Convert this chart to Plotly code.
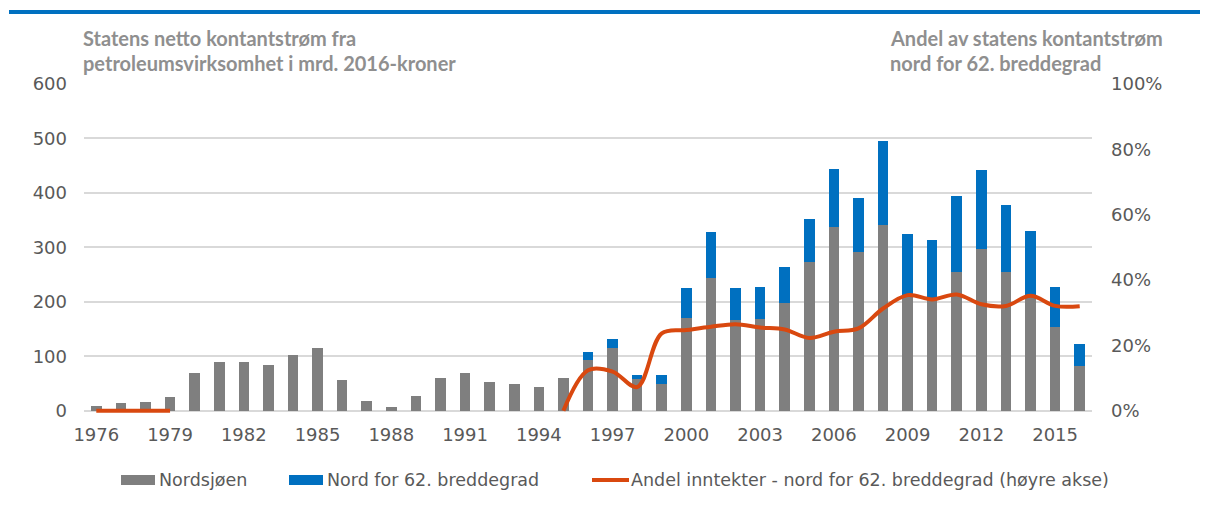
import plotly.graph_objects as go

years = list(range(1976, 2017))
nordsjoen = [9, 14, 17, 26, 69, 89, 89, 85, 102, 115, 56, 18, 7, 28, 61,
             69, 53, 50, 44, 61, 94, 116, 59, 50, 170, 244, 167, 168, 198, 273,
             337, 292, 342, 209, 205, 254, 297, 254, 213, 154, 83]
nord62 = [0, 0, 0, 0, 0, 0, 0, 0, 0, 0, 0, 0, 0, 0, 0,
          0, 0, 0, 0, 0, 14, 16, 6, 15, 55, 85, 58, 59, 66, 79,
          107, 99, 153, 115, 108, 140, 145, 123, 117, 73, 40]
andel = [0, 0, 0, 0, None, None, None, None, None, None, None, None, None, None, None,
         None, None, None, None, 0, 12.4, 12.0, 7.3, 23.7, 24.7, 25.7, 26.5, 25.5, 24.9, 22.3,
         24.2, 25.2, 31.3, 35.4, 34.1, 35.6, 32.6, 32.1, 35.2, 32.1, 32.0]
x_ticks = list(range(1976, 2017, 3))

GRAY = "#7F7F7F"
BLUE = "#0070C0"
ORANGE = "#D9480F"
TXT = "#595959"
TITLE = "#8F8F8F"
TICKFONT = "DejaVu Sans"
TITLEFONT = "Lato"

OFF = 8  # default page body margin
W, H = 1208 - OFF, 522 - OFF
# plot area in page pixels: x 84..1092, y 84..413
L, R, T, B = 84 - OFF, 1208 - 1092, 84 - OFF, 522 - 413
pw, ph = W - L - R, H - T - B


def px(x):
    return (x - OFF - L) / pw


def py(y):
    return (H - B - (y - OFF)) / ph


fig = go.Figure()
fig.add_trace(go.Bar(x=years, y=nordsjoen, name="Nordsjøen", marker_color=GRAY,
                     marker_line_width=0, showlegend=False))
fig.add_trace(go.Bar(x=years, y=nord62, name="Nord for 62. breddegrad", marker_color=BLUE,
                     marker_line_width=0, showlegend=False))
fig.add_trace(go.Scatter(x=years, y=[None if v is None else v / 100 for v in andel],
                         name="Andel inntekter - nord for 62. breddegrad (høyre akse)",
                         mode="lines", line=dict(color=ORANGE, width=4, shape="spline", smoothing=1.0),
                         yaxis="y2", showlegend=False, connectgaps=False))

lo = -4
tickfont = dict(family=TICKFONT, size=18, color=TXT)
fig.update_layout(
    width=W, height=H,
    margin=dict(l=L, r=R, t=T, b=B),
    paper_bgcolor="white", plot_bgcolor="white",
    barmode="stack", bargap=0.57,
    font=dict(family=TICKFONT, color=TXT, size=18),
    xaxis=dict(range=[1975.5, 2016.5], tickmode="array", tickvals=x_ticks,
               ticktext=[str(v) for v in x_ticks], showgrid=False, zeroline=False,
               showline=False, ticks="", tickfont=tickfont, ticklabelstandoff=9),
    yaxis=dict(range=[lo, 600], tickmode="linear", tick0=0, dtick=100,
               gridcolor="#D9D9D9", gridwidth=1.5, zeroline=True, zerolinecolor="#D9D9D9",
               zerolinewidth=1.5, ticks="", ticklabelstandoff=16, tickfont=tickfont),
    yaxis2=dict(range=[lo / 600, 1], overlaying="y", side="right", tickmode="linear",
                tick0=0, dtick=0.2, tickformat=".0%", showgrid=False, zeroline=False,
                ticks="", ticklabelstandoff=18, tickfont=tickfont),
)

# top blue rule
fig.add_shape(type="line", xref="paper", yref="paper", x0=px(9), x1=px(1220),
              y0=py(12), y1=py(12), line=dict(color=BLUE, width=4))

# axis titles
title_font = dict(family=TITLEFONT, size=20, color=TITLE)
for txt, xx, yy in [
    ("<b>Statens netto kontantstrøm fra</b>", 81, 38),
    ("<b>petroleumsvirksomhet i mrd. 2016-kroner</b>", 81, 63),
    ("<b>Andel av statens kontantstrøm</b>", 888, 38),
    ("<b>nord for 62. breddegrad</b>", 888, 63),
]:
    fig.add_annotation(text=txt, xref="paper", yref="paper", x=px(xx), y=py(yy),
                       xanchor="left", yanchor="middle", showarrow=False, font=title_font)

# legend (drawn manually)
leg_y = 480
leg_font = dict(family=TICKFONT, size=17.5, color=TXT)
fig.add_shape(type="rect", xref="paper", yref="paper", x0=px(121), x1=px(155),
              y0=py(475), y1=py(485), fillcolor=GRAY, line_width=0)
fig.add_shape(type="rect", xref="paper", yref="paper", x0=px(289), x1=px(323),
              y0=py(475), y1=py(485), fillcolor=BLUE, line_width=0)
fig.add_shape(type="line", xref="paper", yref="paper", x0=px(592), x1=px(629),
              y0=py(leg_y), y1=py(leg_y), line=dict(color=ORANGE, width=4))
for txt, xx in [("Nordsjøen", 157), ("Nord for 62. breddegrad", 325),
                ("Andel inntekter - nord for 62. breddegrad (høyre akse)", 629)]:
    fig.add_annotation(text=txt, xref="paper", yref="paper", x=px(xx), y=py(leg_y),
                       xanchor="left", yanchor="middle", showarrow=False, font=leg_font)

fig.write_html("out.html")
